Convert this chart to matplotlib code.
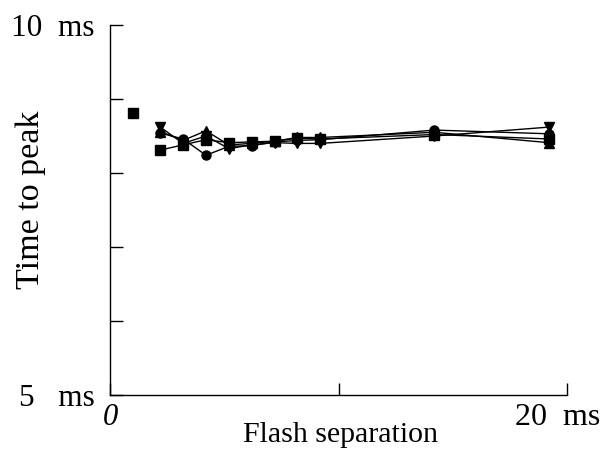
import matplotlib
matplotlib.use("Agg")
import matplotlib.pyplot as plt

# Data (ms)
x_single = [1.0]
y_single = [8.81]

x_vals = [2.2, 3.2, 4.2, 5.2, 6.2, 7.2, 8.2, 9.2, 14.2, 19.2]
circles = [8.54, 8.46, 8.24, 8.36, 8.37, 8.42, 8.44, 8.45, 8.58, 8.53]
squares = [8.31, 8.38, 8.45, 8.41, 8.42, 8.43, 8.47, 8.46, 8.52, 8.46]
tri_down = [8.62, 8.40, 8.50, 8.33, 8.38, 8.41, 8.40, 8.40, 8.50, 8.62]
tri_up = [8.56, 8.44, 8.57, 8.38, 8.40, 8.43, 8.48, 8.48, 8.55, 8.41]

x_ticks = [0, 10, 20]
x_ticklabels = ["0", "", ""]
x_end_label = "20  ms"
y_ticks = [5, 6, 7, 8, 9, 10]
y_ticklabels = ["5   ms", "", "", "", "", "10  ms"]

plt.rcParams['font.family'] = ['Liberation Serif', 'DejaVu Serif']

fig = plt.figure(figsize=(6.03, 4.54), dpi=100)
ax = fig.add_axes([110/603, 1-395/454, (567-110)/603, (395-25)/454])

for ys, m in [(circles, 'o'), (squares, 's'), (tri_down, 'v'), (tri_up, '^')]:
    ax.plot(x_vals, ys, color='black', lw=1.0, marker=m, ms=6.5,
            markerfacecolor='black', markeredgecolor='black')
ax.plot(x_single, y_single, 's', color='black', ms=6.5)

ax.set_xlim(0, 20)
ax.set_ylim(5, 10)
ax.set_xticks(x_ticks)
ax.set_xticklabels(x_ticklabels, fontsize=22)
ax.get_xticklabels()[0].set_style('italic')
ax.set_yticks(y_ticks)
ax.set_yticklabels(y_ticklabels, fontsize=22.5)
ax.tick_params(direction='in', length=9, width=1, colors='black')
ax.tick_params(axis='x', pad=6)
ax.tick_params(axis='y', pad=11)
for s in ['top', 'right']:
    ax.spines[s].set_visible(False)
for s in ['left', 'bottom']:
    ax.spines[s].set_linewidth(1)

ax.annotate(x_end_label, xy=(20, 5), xycoords='data', xytext=(24, -6),
            textcoords='offset points', ha='right', va='top', fontsize=23,
            annotation_clip=False)

ax.set_xlabel("Flash separation", fontsize=21.5)
ax.xaxis.set_label_coords(0.505, -0.074)
ax.set_ylabel("Time to peak", fontsize=24.5)
ax.yaxis.set_label_coords(-0.14, 0.527)

fig.savefig("out.png", dpi=100)
